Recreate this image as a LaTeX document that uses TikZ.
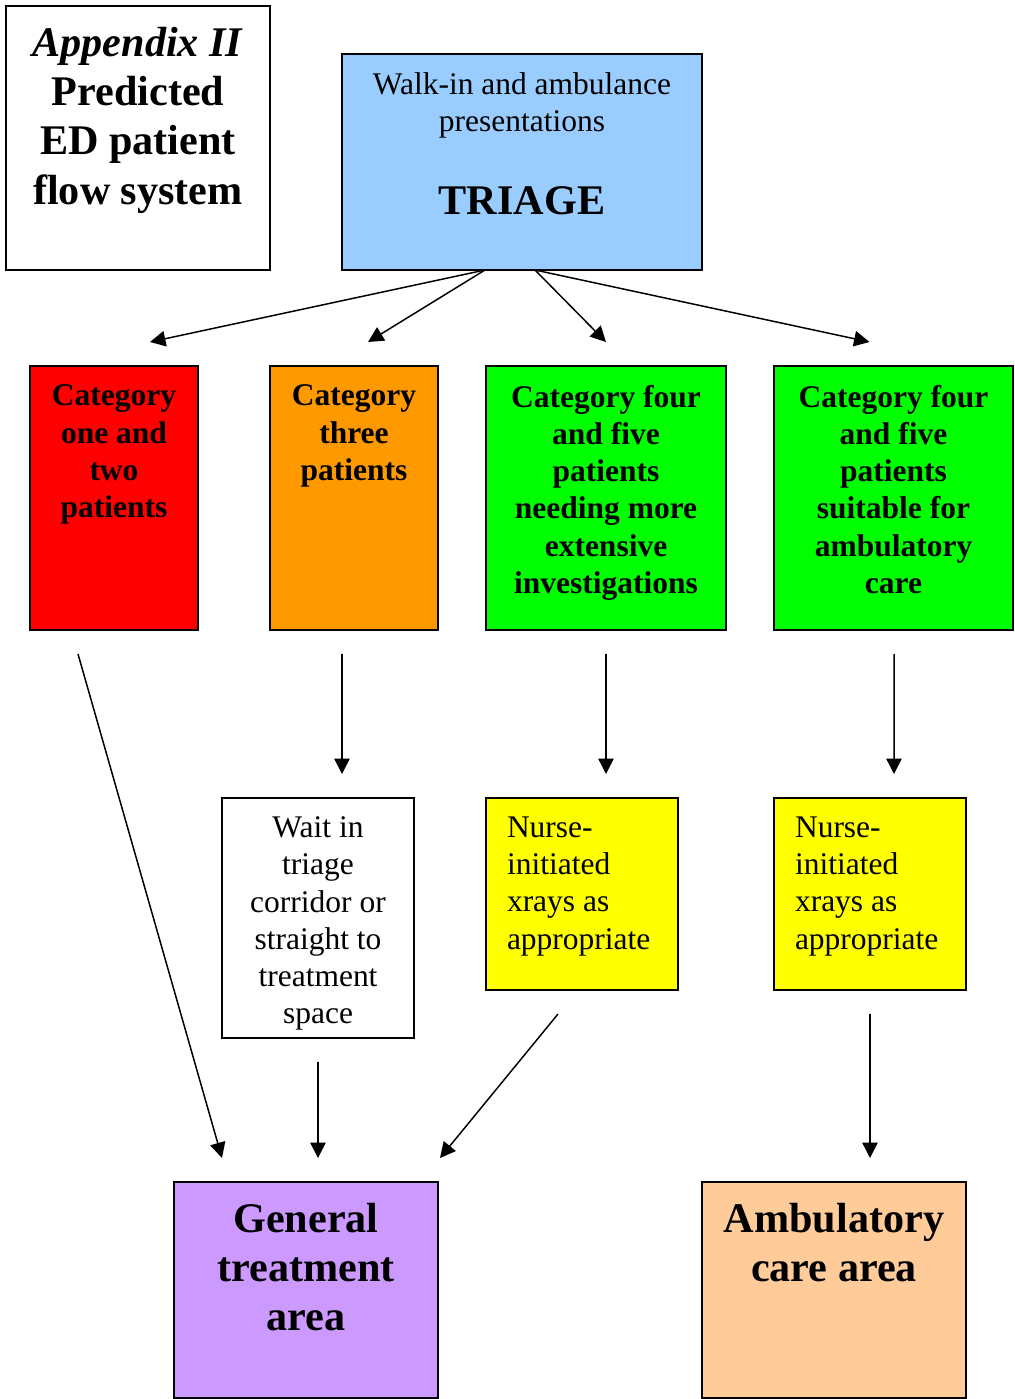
\documentclass[tikz,border=0pt]{standalone}
\usepackage{fontspec}
\setmainfont{Liberation Serif}
\usepackage{tikz}
\usetikzlibrary{arrows.meta,calc}
\definecolor{triageBlue}{RGB}{153,204,255}
\definecolor{catRed}{RGB}{255,0,0}
\definecolor{catOrange}{RGB}{255,153,0}
\definecolor{catGreen}{RGB}{0,255,0}
\definecolor{xrayYellow}{RGB}{255,255,0}
\definecolor{generalPurple}{RGB}{204,153,255}
\definecolor{ambPeach}{RGB}{255,204,153}
\newlength{\px}\setlength{\px}{0.025cm}
% box body: width, height (in px), top gap, text
\newcommand{\boxtext}[4]{\parbox[c][#2\px][t]{#1\px}{\vspace*{#3}#4}}
\newcommand{\smalltype}{\fontsize{22.4}{26.5}\selectfont}
\newcommand{\bigtype}{\fontsize{30}{35}\selectfont\bfseries}

\begin{document}
\begin{tikzpicture}[x=0.025cm, y=-0.025cm,
    flowbox/.style={draw, line width=1.4pt, inner sep=0pt, outer sep=0pt, anchor=north west},
    flowarrow/.style={-{Triangle[length=11pt,width=11pt]}, line width=1.05pt}]
  \useasboundingbox (0,0) rectangle (1014,1399);
  % Title and triage
  \node[flowbox, fill=white] (title) at (6,6)
    {\boxtext{264}{264}{15pt}{\centering\bigtype\textit{Appendix II}\\ Predicted\\ ED patient\\ flow system\par}};
  \node[flowbox, fill=triageBlue] (triage) at (342,54)
    {\boxtext{360}{216}{13.2pt}{\centering{\smalltype Walk-in and ambulance\\ presentations\par}\vspace{24pt}{\bigtype TRIAGE\par}}};
  % Triage categories
  \node[flowbox, fill=catRed] (cat12) at (30,366)
    {\boxtext{168}{264}{13.5pt}{\centering\smalltype\bfseries Category\\ one and\\ two\\ patients\par}};
  \node[flowbox, fill=catOrange] (cat3) at (270,366)
    {\boxtext{168}{264}{13.5pt}{\centering\smalltype\bfseries Category\\ three\\ patients\par}};
  \node[flowbox, fill=catGreen] (cat45inv) at (486,366)
    {\boxtext{240}{264}{13.5pt}{\centering\smalltype\bfseries Category four\\ and five\\ patients\\ needing more\\ extensive\\ investigations\par}};
  \node[flowbox, fill=catGreen] (cat45amb) at (774,366)
    {\boxtext{239}{264}{13.5pt}{\centering\smalltype\bfseries Category four\\ and five\\ patients\\ suitable for\\ ambulatory\\ care\par}};
  % Intermediate steps
  \node[flowbox, fill=white] (wait) at (222,798)
    {\boxtext{192}{240}{13.3pt}{\centering\smalltype Wait in\\ triage\\ corridor or\\ straight to\\ treatment\\ space\par}};
  \node[flowbox, fill=xrayYellow] (xrayinv) at (486,798)
    {\boxtext{192}{192}{13.3pt}{\raggedright\leftskip=21\px\smalltype Nurse-\\ initiated\\ xrays as\\ appropriate\par}};
  \node[flowbox, fill=xrayYellow] (xrayamb) at (774,798)
    {\boxtext{192}{192}{13.3pt}{\raggedright\leftskip=21\px\smalltype Nurse-\\ initiated\\ xrays as\\ appropriate\par}};
  % Destinations
  \node[flowbox, fill=generalPurple] (general) at (174,1182)
    {\boxtext{264}{216}{15pt}{\centering\bigtype General\\ treatment\\ area\par}};
  \node[flowbox, fill=ambPeach] (ambulatory) at (702,1182)
    {\boxtext{264}{216}{15pt}{\centering\bigtype Ambulatory\\ care area\par}};
  % Arrows out of triage
  \draw[flowarrow] ($(triage.south)+(-37,0)$) -- ($(cat12.north)+(36,-24)$);
  \draw[flowarrow] ($(triage.south)+(-37,0)$) -- ($(cat3.north)+(14,-24)$);
  \draw[flowarrow] ($(triage.south)+(13,0)$) -- ($(cat45inv.north)+(0,-24)$);
  \draw[flowarrow] ($(triage.south)+(13,0)$) -- ($(cat45amb.north)+(-24,-24)$);
  % Arrows to the middle row
  \draw[flowarrow] ($(cat3.south)+(-12,24)$) -- ($(wait.north)+(24,-24)$);
  \draw[flowarrow] ($(cat45inv.south)+(0,24)$) -- ($(xrayinv.north)+(24,-24)$);
  \draw[flowarrow] ($(cat45amb.south)+(0.5,24)$) -- ($(xrayamb.north)+(24,-24)$);
  % Arrows to the treatment areas
  \draw[flowarrow] ($(cat12.south)+(-36,24)$) -- ($(general.north)+(-84,-24)$);
  \draw[flowarrow] ($(wait.south)+(0,24)$) -- ($(general.north)+(12,-24)$);
  \draw[flowarrow] ($(xrayinv.south)+(-24,24)$) -- ($(general.north)+(134,-24)$);
  \draw[flowarrow] ($(xrayamb.south)+(0,24)$) -- ($(ambulatory.north)+(36,-24)$);
\end{tikzpicture}
\end{document}
